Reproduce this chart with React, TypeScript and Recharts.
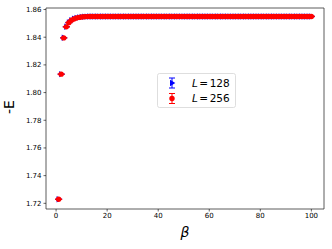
import * as React from 'react'
import { ScatterChart, Scatter, XAxis, YAxis, ReferenceLine } from 'recharts'

const betas = [
  1, 2, 3, 4, 5, 6, 7, 8, 9, 10, 11, 12, 13, 14, 15, 16, 17, 18, 19, 20,
  21, 22, 23, 24, 25, 26, 27, 28, 29, 30, 31, 32, 33, 34, 35, 36, 37, 38, 39, 40,
  41, 42, 43, 44, 45, 46, 47, 48, 49, 50, 51, 52, 53, 54, 55, 56, 57, 58, 59, 60,
  61, 62, 63, 64, 65, 66, 67, 68, 69, 70, 71, 72, 73, 74, 75, 76, 77, 78, 79, 80,
  81, 82, 83, 84, 85, 86, 87, 88, 89, 90, 91, 92, 93, 94, 95, 96, 97, 98, 99, 100,
]

// L = 128
const energy128 = [
  1.7229, 1.8133, 1.8396, 1.8476, 1.8506, 1.8523, 1.8533, 1.8539, 1.8543, 1.8546,
  1.8548, 1.8549, 1.855, 1.855, 1.855, 1.855, 1.855, 1.855, 1.855, 1.855,
  1.855, 1.855, 1.855, 1.855, 1.855, 1.855, 1.855, 1.855, 1.855, 1.855,
  1.855, 1.855, 1.855, 1.855, 1.855, 1.855, 1.855, 1.855, 1.855, 1.855,
  1.855, 1.855, 1.855, 1.855, 1.855, 1.855, 1.855, 1.855, 1.855, 1.855,
  1.855, 1.855, 1.855, 1.855, 1.855, 1.855, 1.855, 1.855, 1.855, 1.855,
  1.855, 1.855, 1.855, 1.855, 1.855, 1.855, 1.855, 1.855, 1.855, 1.855,
  1.855, 1.855, 1.855, 1.855, 1.855, 1.855, 1.855, 1.855, 1.855, 1.855,
  1.855, 1.855, 1.855, 1.855, 1.855, 1.855, 1.855, 1.855, 1.855, 1.855,
  1.855, 1.855, 1.855, 1.855, 1.855, 1.855, 1.855, 1.855, 1.855, 1.855,
]

// L = 256
const energy256 = [
  1.7229, 1.8133, 1.8395, 1.8475, 1.8505, 1.8522, 1.8532, 1.8539, 1.8543, 1.8546,
  1.8548, 1.8549, 1.855, 1.855, 1.855, 1.855, 1.855, 1.855, 1.855, 1.855,
  1.855, 1.855, 1.855, 1.855, 1.855, 1.855, 1.855, 1.855, 1.855, 1.855,
  1.855, 1.855, 1.855, 1.855, 1.855, 1.855, 1.855, 1.855, 1.855, 1.855,
  1.855, 1.855, 1.855, 1.855, 1.855, 1.855, 1.855, 1.855, 1.855, 1.855,
  1.855, 1.855, 1.855, 1.855, 1.855, 1.855, 1.855, 1.855, 1.855, 1.855,
  1.855, 1.855, 1.855, 1.855, 1.855, 1.855, 1.855, 1.855, 1.855, 1.855,
  1.855, 1.855, 1.855, 1.855, 1.855, 1.855, 1.855, 1.855, 1.855, 1.855,
  1.855, 1.855, 1.855, 1.855, 1.855, 1.855, 1.855, 1.855, 1.855, 1.855,
  1.855, 1.855, 1.855, 1.855, 1.855, 1.855, 1.855, 1.855, 1.855, 1.855,
]

const xTicks = [0, 20, 40, 60, 80, 100]
const yTicks = [1.72, 1.74, 1.76, 1.78, 1.8, 1.82, 1.84, 1.86]
const xDomain: [number, number] = [-3.95, 104.95]
const yDomain: [number, number] = [1.7159, 1.8611]

const BLUE = '#0000ff'
const RED = '#ff0000'
const SPINE = '#333'
const FONT = '"DejaVu Sans", sans-serif'

const data128 = betas.map((beta, i) => ({ beta, e: energy128[i] }))
const data256 = betas.map((beta, i) => ({ beta, e: energy256[i] }))

function TriMarker(props: any) {
  const { cx, cy } = props
  if (cx == null || cy == null) return null
  return (
    <g>
      <line x1={cx - 3.5} x2={cx + 3.5} y1={cy} y2={cy} stroke={BLUE} strokeWidth={1.4} />
      <polygon
        points={`${cx + 3.3},${cy} ${cx - 2},${cy - 3.2} ${cx - 2},${cy + 3.2}`}
        fill={BLUE}
      />
    </g>
  )
}

function DotMarker(props: any) {
  const { cx, cy } = props
  if (cx == null || cy == null) return null
  return (
    <g>
      <line x1={cx - 3.5} x2={cx + 3.5} y1={cy} y2={cy} stroke={RED} strokeWidth={1.4} />
      <circle cx={cx} cy={cy} r={2.7} fill={RED} />
    </g>
  )
}

function LegendBox() {
  const rows = [
    { label: '128', color: BLUE, tri: true },
    { label: '256', color: RED, tri: false },
  ]
  return (
    <svg width={80} height={36} style={{ display: 'block' }}>
      <rect x={0.5} y={0.5} width={78} height={34} rx={2} fill="#fff" stroke="#d5d5d5" strokeWidth={0.8} />
      {rows.map((r, i) => {
        const cy = 10 + i * 15.5
        const cx = 15
        return (
          <g key={r.label}>
            <line x1={cx} x2={cx} y1={cy - 5} y2={cy + 5} stroke={r.color} strokeWidth={1} />
            <line x1={cx - 3} x2={cx + 3} y1={cy - 5} y2={cy - 5} stroke={r.color} strokeWidth={1} />
            <line x1={cx - 3} x2={cx + 3} y1={cy + 5} y2={cy + 5} stroke={r.color} strokeWidth={1} />
            {r.tri ? (
              <polygon points={`${cx + 3.3},${cy} ${cx - 2},${cy - 3.2} ${cx - 2},${cy + 3.2}`} fill={r.color} />
            ) : (
              <circle cx={cx} cy={cy} r={2.7} fill={r.color} />
            )}
            <text x={35} y={cy + 3.7} fontFamily={FONT} fontSize={10.5} fill="#000">
              <tspan fontStyle="italic">L</tspan>
              <tspan dx={1.5}>=</tspan>
              <tspan dx={1.5}>{r.label}</tspan>
            </text>
          </g>
        )
      })}
    </svg>
  )
}

function YLabel() {
  return (
    <text x={14} y={107} transform="rotate(-90 14 107)" textAnchor="middle" fontFamily={FONT} fontSize={14} fill="#000">
      -E
    </text>
  )
}

function XLabel() {
  return (
    <text x={185} y={237} textAnchor="middle" fontFamily={FONT} fontStyle="italic" fontSize={14} fill="#000">
      β
    </text>
  )
}

const tickStyle = { fontFamily: FONT, fontSize: 7, fill: '#000' }
const lineStyle = { stroke: SPINE, strokeWidth: 0.8 }

export default function App() {
  return (
    <div style={{ position: 'absolute', left: 0, top: 0, width: 332, height: 249, background: '#fff' }}>
      <ScatterChart width={332} height={249} margin={{ top: 8, right: 8, bottom: 0, left: 0 }}>
        <XAxis
          type="number"
          dataKey="beta"
          domain={xDomain}
          ticks={xTicks}
          allowDataOverflow
          height={40}
          tick={tickStyle}
          tickSize={2.5}
          tickMargin={2}
          axisLine={lineStyle}
          tickLine={{ stroke: '#000', strokeWidth: 0.6 }}
          label={<XLabel />}
        />
        <YAxis
          type="number"
          dataKey="e"
          domain={yDomain}
          ticks={yTicks}
          allowDataOverflow
          width={46}
          tick={tickStyle}
          tickSize={2.5}
          tickMargin={2}
          tickFormatter={(v: number) => v.toFixed(2)}
          axisLine={lineStyle}
          tickLine={{ stroke: '#000', strokeWidth: 0.6 }}
          label={<YLabel />}
        />
        <ReferenceLine y={yDomain[1]} stroke={SPINE} strokeWidth={0.8} ifOverflow="visible" />
        <ReferenceLine x={xDomain[1]} stroke={SPINE} strokeWidth={0.8} ifOverflow="visible" />
        <Scatter name="L = 128" data={data128} shape={<TriMarker />} isAnimationActive={false} />
        <Scatter name="L = 256" data={data256} shape={<DotMarker />} isAnimationActive={false} />
      </ScatterChart>
      <div style={{ position: 'absolute', left: 157, top: 73 }}>
        <LegendBox />
      </div>
    </div>
  )
}
